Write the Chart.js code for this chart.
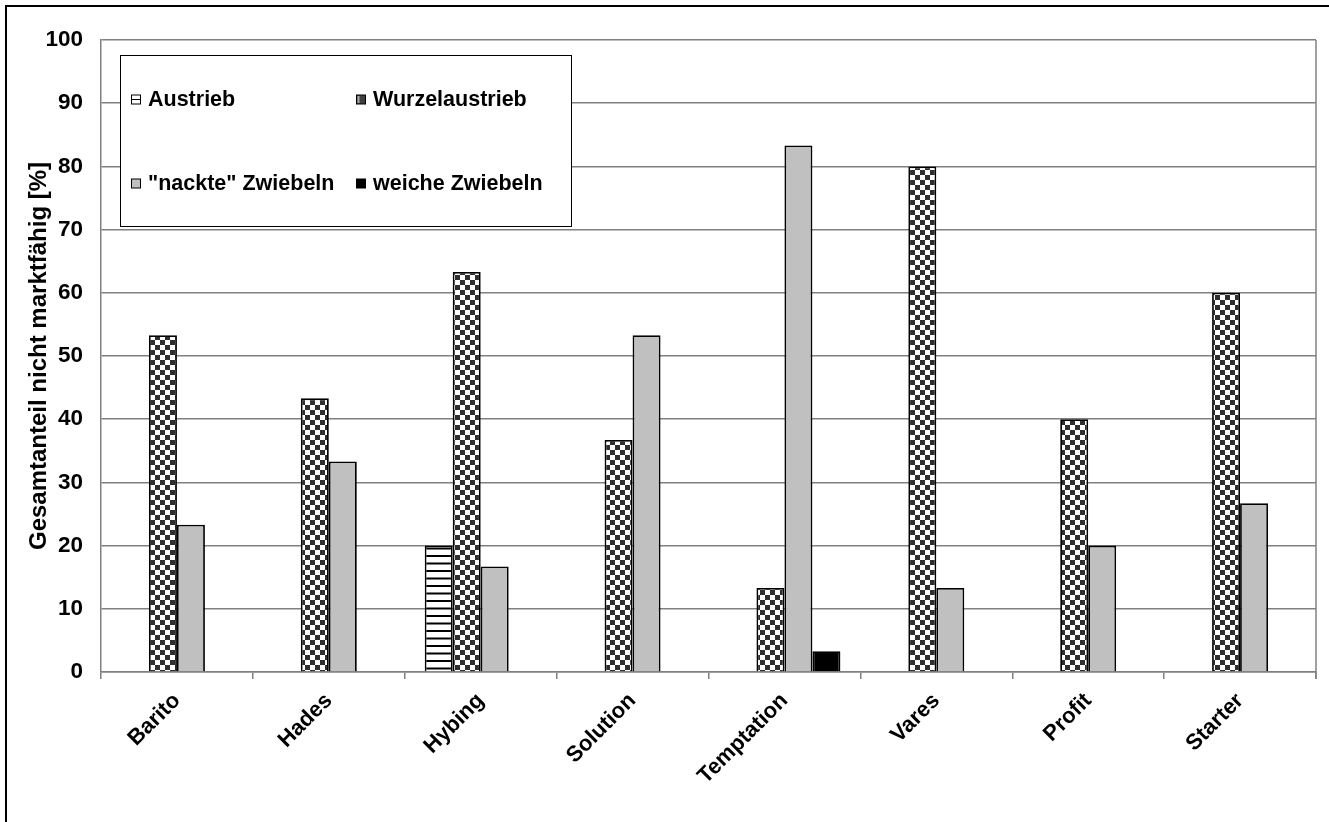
<!DOCTYPE html>
<html>
<head>
<meta charset="utf-8">
<script src="https://cdn.jsdelivr.net/npm/chart.js@4.4.1/dist/chart.umd.min.js"></script>
<style>
html,body{margin:0;padding:0;background:#fff;}
#wrap{position:relative;width:1329px;height:822px;}
</style>
</head>
<body>
<div id="wrap"><canvas id="c" width="1329" height="822"></canvas></div>
<script>
const categories = ["Barito","Hades","Hybing","Solution","Temptation","Vares","Profit","Starter"];
const seriesNames = ["Austrieb","Wurzelaustrieb","\"nackte\" Zwiebeln","weiche Zwiebeln"];
const austrieb = [null,null,20,null,null,null,null,null];
const wurzelaustrieb = [53.3,43.3,63.3,36.7,13.3,80,40,60];
const nackte = [23.3,33.3,16.7,53.3,83.3,13.3,20,26.7];
const weiche = [null,null,null,null,3.3,null,null,null];
const yTicks = [0,10,20,30,40,50,60,70,80,90,100];

const FONT = "'Liberation Sans', Arial, sans-serif";

function checkerPattern(){
  const c=document.createElement('canvas'); c.width=10; c.height=10;
  const x=c.getContext('2d');
  x.fillStyle='#fff'; x.fillRect(0,0,10,10);
  x.fillStyle='#2e2e2e'; x.fillRect(0,0,5,5); x.fillRect(5,5,5,5);
  return x.createPattern(c,'repeat');
}
function stripePattern(){
  const c=document.createElement('canvas'); c.width=10; c.height=15;
  const x=c.getContext('2d');
  x.fillStyle='#fff'; x.fillRect(0,0,10,15);
  x.fillStyle='#000'; x.fillRect(0,0,10,2); x.fillRect(0,7.5,10,2);
  return x.createPattern(c,'repeat');
}
const ctx=document.getElementById('c').getContext('2d');
const fills=[stripePattern(),checkerPattern(),'#c0c0c0','#000000'];

const legendPlugin={
  id:'customLegend',
  afterDraw(chart){
    const g=chart.ctx;
    g.save();
    // outer frame
    g.fillStyle='#000';
    g.fillRect(5,5,1324,2);
    g.fillRect(5,5,2,817);
    // chart area right border
    const a=chart.chartArea;
    g.strokeStyle='#808080'; g.lineWidth=1.5;
    g.beginPath(); g.moveTo(a.right,a.top); g.lineTo(a.right,a.bottom+7); g.stroke();
    // legend box
    const bx=120.5,by=55.5,bw=451,bh=171;
    g.fillStyle='#fff'; g.fillRect(bx,by,bw,bh);
    g.strokeStyle='#000'; g.lineWidth=1; g.strokeRect(bx,by,bw,bh);
    const pos=[[131,99],[356,99],[131,183],[356,183]];
    g.font="bold 21.5px "+FONT; g.textBaseline='middle'; g.textAlign='left';
    chart.data.datasets.forEach((ds,i)=>{
      const [mx,my]=pos[i];
      const s=9;
      const x0=mx+0.5,y0=my-s/2+0.5;
      if(i===0){g.fillStyle='#fff';g.fillRect(x0,y0,s,s);g.strokeStyle='#000';g.lineWidth=1;g.strokeRect(x0,y0,s,s);g.beginPath();g.moveTo(x0,y0+s/2);g.lineTo(x0+s,y0+s/2);g.stroke();}
      else if(i===1){g.fillStyle='#404040';g.fillRect(x0,y0,s,s);g.strokeStyle='#000';g.lineWidth=1;g.strokeRect(x0,y0,s,s);g.fillStyle='#aaa';g.fillRect(x0+1,y0+1,2,s-2);}
      else if(i===2){g.fillStyle='#c0c0c0';g.fillRect(x0,y0,s,s);g.strokeStyle='#000';g.lineWidth=1;g.strokeRect(x0,y0,s,s);}
      else {g.fillStyle='#000';g.fillRect(x0,y0,s,s);g.strokeStyle='#000';g.strokeRect(x0,y0,s,s);}
      g.fillStyle='#000';
      g.fillText(ds.label,mx+17,my+1);
    });
    g.restore();
  }
};

new Chart(ctx,{
  type:'bar',
  data:{
    labels:categories,
    datasets:[
      {label:seriesNames[0],data:austrieb,backgroundColor:fills[0]},
      {label:seriesNames[1],data:wurzelaustrieb,backgroundColor:fills[1]},
      {label:seriesNames[2],data:nackte,backgroundColor:fills[2]},
      {label:seriesNames[3],data:weiche,backgroundColor:fills[3]}
    ].map(d=>Object.assign(d,{borderColor:'#000',borderWidth:1.8,categoryPercentage:0.737,barPercentage:1}))
  },
  options:{
    responsive:false,
    animation:false,
    devicePixelRatio:1,
    layout:{padding:{top:40,right:13,left:0,bottom:0}},
    plugins:{legend:{display:false},tooltip:{enabled:false}},
    scales:{
      x:{
        grid:{drawOnChartArea:false,drawTicks:true,tickLength:7,color:'#808080',lineWidth:1.5},
        border:{color:'#808080',width:1.5},
        ticks:{color:'#000',font:{family:FONT,size:22,weight:'bold'},minRotation:45,maxRotation:45,padding:9},
        afterFit(s){s.height=150;}
      },
      y:{
        min:0,max:100,
        afterBuildTicks(s){s.ticks=yTicks.map(v=>({value:v}));},
        grid:{color:'#808080',lineWidth:1.5,drawTicks:false},
        border:{color:'#808080',width:1.5},
        ticks:{color:'#000',font:{family:FONT,size:22.5,weight:'bold'},padding:18},
        title:{display:true,text:'Gesamtanteil nicht marktfähig [%]',color:'#000',font:{family:FONT,size:24,weight:'bold'},padding:{top:25,bottom:0}},
        afterFit(s){s.width=101;}
      }
    }
  },
  plugins:[legendPlugin]
});
</script>
</body>
</html>
